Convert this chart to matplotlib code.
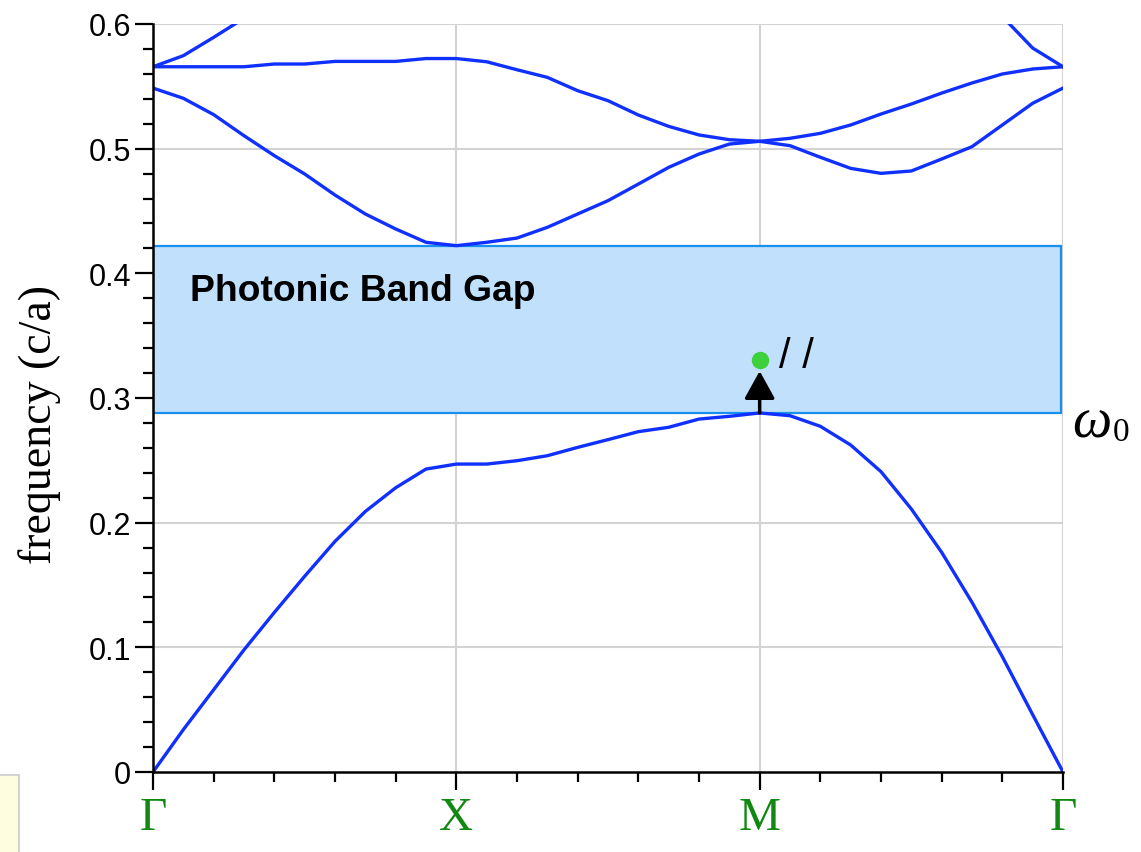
import numpy as np
import matplotlib
matplotlib.use("Agg")
import matplotlib.pyplot as plt
from matplotlib.patches import Rectangle

# k-path: Gamma -> X -> M -> Gamma, 10 steps per segment
kpts = np.linspace(0, 3, 31)
sym_pos = [0, 1, 2, 3]
sym_labels = ["Γ", "X", "M", "Γ"]

band1 = [0.0, 0.034, 0.066, 0.098, 0.128, 0.157, 0.185, 0.209, 0.228, 0.243, 0.247,
         0.247, 0.2497, 0.2537, 0.2604, 0.2666, 0.273, 0.2765, 0.2831, 0.2853, 0.288,
         0.2858, 0.2773, 0.2623, 0.2409, 0.211, 0.1762, 0.1361, 0.0925, 0.046, 0.0]
band2 = [0.5486, 0.5404, 0.5273, 0.5104, 0.4944, 0.4797, 0.4628, 0.4476, 0.4356, 0.4249, 0.4222,
         0.4249, 0.4283, 0.4369, 0.4476, 0.4583, 0.4716, 0.485, 0.4957, 0.5037, 0.5059,
         0.5024, 0.4931, 0.4842, 0.4802, 0.4821, 0.4917, 0.5016, 0.519, 0.5364, 0.5486]
band3 = [0.5657, 0.5657, 0.5657, 0.5657, 0.5679, 0.5679, 0.570, 0.570, 0.570, 0.5723, 0.5723,
         0.5697, 0.5633, 0.5572, 0.5465, 0.5385, 0.527, 0.5179, 0.511, 0.5072, 0.5059,
         0.5083, 0.5123, 0.519, 0.5278, 0.5358, 0.5446, 0.5527, 0.5599, 0.5639, 0.5657]
nan = np.nan
band4 = [0.5657, 0.5746, 0.5893, 0.6046, nan, nan, nan, nan, nan, nan, nan,
         nan, nan, nan, nan, nan, nan, nan, nan, nan, nan,
         nan, nan, nan, nan, nan, nan, nan, 0.606, 0.5807, 0.5657]
bands = [band1, band2, band3, band4]

gap_lo = 0.288
gap_hi = 0.4222
mode_freq = 0.3305

line_col = "#1030ff"
green = "#118811"
sans = ["Liberation Sans", "DejaVu Sans"]
serif = ["Liberation Serif", "DejaVu Serif"]

fig = plt.figure(figsize=(11.41, 8.53), dpi=100)
ax = fig.add_axes([153/1141, 1-773/853, 910/1141, 748/853])

ax.set_xlim(0, 3)
ax.set_ylim(0, 0.6)

# grid
for xv in [1, 2, 3]:
    ax.axvline(xv, color="#d3d3d3", lw=1.5, zorder=0)
for yv in [0.1, 0.2, 0.3, 0.4, 0.5, 0.6]:
    ax.axhline(yv, color="#d3d3d3", lw=1.5, zorder=0)

# band gap
ax.add_patch(Rectangle((0, gap_lo), 2.993, gap_hi - gap_lo, facecolor="#c0e0fc",
                       edgecolor="#1a90ee", lw=1.6, zorder=1))
ax.text(0.122, 0.386, "Photonic Band Gap", fontsize=26.8, fontweight="bold",
        family=sans, ha="left", va="center", zorder=4)

for b in bands:
    ax.plot(kpts, b, color=line_col, lw=2.4, zorder=3)

# defect mode arrow + dot
ax.annotate("", xy=(2, 0.3216), xytext=(2, gap_lo),
            arrowprops=dict(arrowstyle="-|>,head_length=0.85,head_width=0.47",
                            mutation_scale=20, lw=2.5, color="black",
                            shrinkA=0, shrinkB=0), zorder=5)
ax.plot([2], [mode_freq], "o", color="#3dd13d", ms=11.5, zorder=6)
ax.text(2.063, 0.3335, "/ /", fontsize=30, family=sans,
        ha="left", va="center", zorder=6)

for s in ["top", "right"]:
    ax.spines[s].set_visible(False)
for s in ["left", "bottom"]:
    ax.spines[s].set_linewidth(1.8)
    ax.spines[s].set_zorder(7)

ax.set_yticks([0, 0.1, 0.2, 0.3, 0.4, 0.5, 0.6])
ax.set_yticklabels(["0", "0.1", "0.2", "0.3", "0.4", "0.5", "0.6"])
ax.set_yticks(np.arange(0, 0.601, 0.02), minor=True)
minor_x = [v for v in np.arange(0, 3.01, 0.2) if abs(v - round(v)) > 1e-6]
ax.set_xticks(sym_pos)
ax.set_xticklabels(sym_labels)
ax.set_xticks(minor_x, minor=True)

ax.tick_params(axis="both", which="major", length=13, width=1.6, direction="out")
ax.tick_params(axis="both", which="minor", length=7, width=1.6, direction="out")
ax.tick_params(axis="y", which="major", labelsize=22, pad=3)
ax.tick_params(axis="x", which="major", labelsize=34, pad=5, labelcolor=green)
for t in ax.get_yticklabels():
    t.set_family(sans)
for t in ax.get_xticklabels():
    t.set_family(serif)

fig.text(40/1141, 1-424/853, "frequency (c/a)", rotation=90, fontsize=33,
         family=serif, ha="center", va="center")

# omega_0 label at right
fig.text(1072/1141, 1-438/853, "ω", fontsize=40, style="italic", family=serif,
         ha="left", va="baseline")
fig.text(1113/1141, 1-441/853, "0", fontsize=24, family=serif,
         ha="left", va="baseline")

# clipped tooltip box at bottom left
fig.patches.append(Rectangle((-2/1141, -2/853), 21/1141, 79/853,
                             transform=fig.transFigure, facecolor="#fffde0",
                             edgecolor="#cccccc", lw=1.2))

fig.savefig("out.png", dpi=100)
